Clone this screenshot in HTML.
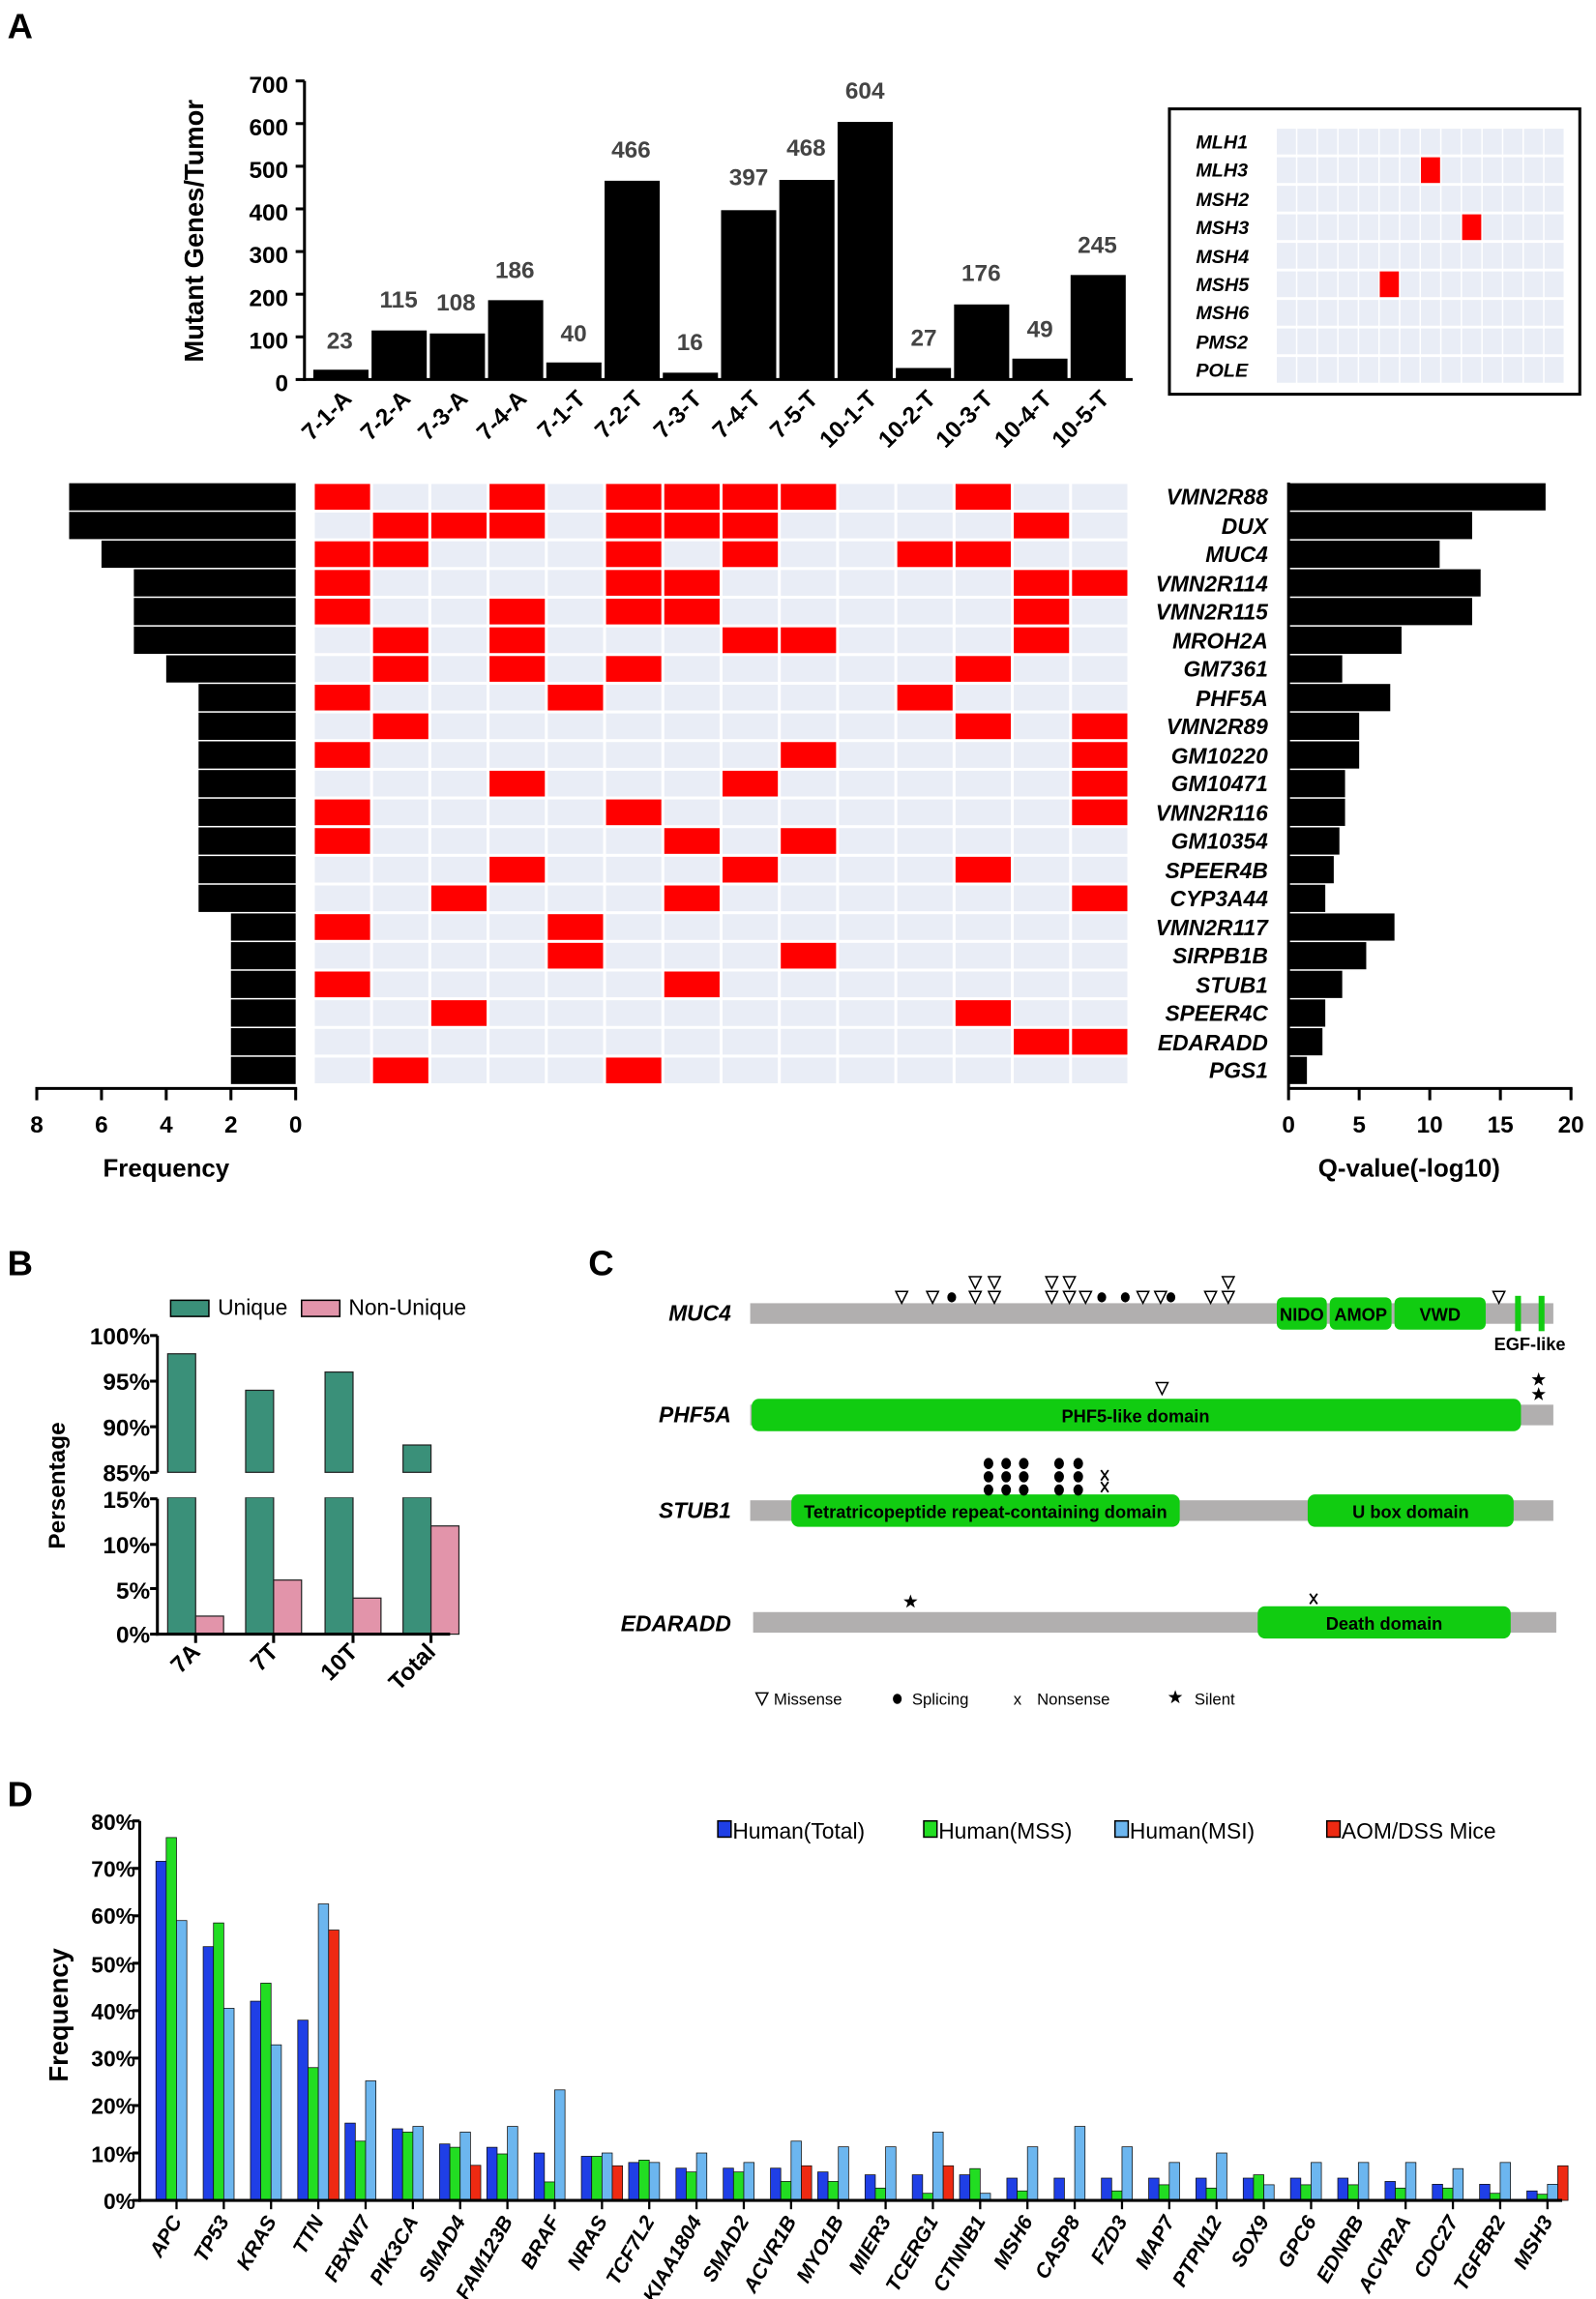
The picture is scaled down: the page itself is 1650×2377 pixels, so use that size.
<!DOCTYPE html>
<html><head><meta charset="utf-8"><style>
html,body{margin:0;padding:0;background:#fff}
svg{display:block}
text{font-family:"Liberation Sans",Arial,sans-serif}
.b{font-weight:bold}
.gi{font-weight:bold;font-style:italic}
</style></head><body>
<svg id="s" width="1650" height="2377" viewBox="0 0 1085 1563" xmlns="http://www.w3.org/2000/svg">
<rect width="1085" height="1563" fill="#fff"/>
<g id="shapes"></g>
<text x="5" y="26" class="b" font-size="24">A</text>
<text x="5" y="867" class="b" font-size="24">B</text>
<text x="400" y="867" class="b" font-size="24">C</text>
<text x="5" y="1228" class="b" font-size="24">D</text>

<text transform="translate(138,157) rotate(-90)" text-anchor="middle" class="b" font-size="18">Mutant  Genes/Tumor</text>
<g class="b" font-size="16" text-anchor="end">
<text x="196" y="63">700</text><text x="196" y="92">600</text><text x="196" y="121">500</text><text x="196" y="150">400</text><text x="196" y="179">300</text><text x="196" y="208">200</text><text x="196" y="237">100</text><text x="196" y="266">0</text>
</g>
<g class="b" font-size="16" fill="#444" text-anchor="middle">
<text x="231" y="237">23</text><text x="271" y="209">115</text><text x="310" y="211">108</text><text x="350" y="189">186</text><text x="390" y="232">40</text><text x="429" y="107">466</text><text x="469" y="238">16</text><text x="509" y="126">397</text><text x="548" y="106">468</text><text x="588" y="67">604</text><text x="628" y="235">27</text><text x="667" y="191">176</text><text x="707" y="229">49</text><text x="746" y="172">245</text>
</g>
<g class="b" font-size="16" text-anchor="end">
<text transform="translate(240,272) rotate(-45)">7-1-A</text>
<text transform="translate(280,272) rotate(-45)">7-2-A</text>
<text transform="translate(319,272) rotate(-45)">7-3-A</text>
<text transform="translate(359,272) rotate(-45)">7-4-A</text>
<text transform="translate(399,272) rotate(-45)">7-1-T</text>
<text transform="translate(438,272) rotate(-45)">7-2-T</text>
<text transform="translate(478,272) rotate(-45)">7-3-T</text>
<text transform="translate(518,272) rotate(-45)">7-4-T</text>
<text transform="translate(557,272) rotate(-45)">7-5-T</text>
<text transform="translate(597,272) rotate(-45)">10-1-T</text>
<text transform="translate(637,272) rotate(-45)">10-2-T</text>
<text transform="translate(676,272) rotate(-45)">10-3-T</text>
<text transform="translate(716,272) rotate(-45)">10-4-T</text>
<text transform="translate(755,272) rotate(-45)">10-5-T</text>
</g>

<g class="gi" font-size="13">
<text x="813" y="101">MLH1</text><text x="813" y="120">MLH3</text><text x="813" y="140">MSH2</text><text x="813" y="159">MSH3</text><text x="813" y="179">MSH4</text><text x="813" y="198">MSH5</text><text x="813" y="217">MSH6</text><text x="813" y="237">PMS2</text><text x="813" y="256">POLE</text>
</g>

<g class="gi" font-size="15" text-anchor="end">
<text x="862" y="343">VMN2R88</text><text x="862" y="363">DUX</text><text x="862" y="382">MUC4</text><text x="862" y="402">VMN2R114</text><text x="862" y="421">VMN2R115</text><text x="862" y="441">MROH2A</text><text x="862" y="460">GM7361</text><text x="862" y="480">PHF5A</text><text x="862" y="499">VMN2R89</text><text x="862" y="519">GM10220</text><text x="862" y="538">GM10471</text><text x="862" y="558">VMN2R116</text><text x="862" y="577">GM10354</text><text x="862" y="597">SPEER4B</text><text x="862" y="616">CYP3A44</text><text x="862" y="636">VMN2R117</text><text x="862" y="655">SIRPB1B</text><text x="862" y="675">STUB1</text><text x="862" y="694">SPEER4C</text><text x="862" y="714">EDARADD</text><text x="862" y="733">PGS1</text>
</g>
<g class="b" font-size="16" text-anchor="middle">
<text x="25" y="770">8</text><text x="69" y="770">6</text><text x="113" y="770">4</text><text x="157" y="770">2</text><text x="201" y="770">0</text>
<text x="876" y="770">0</text><text x="924" y="770">5</text><text x="972" y="770">10</text><text x="1020" y="770">15</text><text x="1068" y="770">20</text>
</g>
<text x="113" y="800" class="b" font-size="17" text-anchor="middle">Frequency</text>
<text x="958" y="800" class="b" font-size="17" text-anchor="middle">Q-value(-log10)</text>

<text x="148" y="894" font-size="15">Unique</text>
<text x="237" y="894" font-size="15">Non-Unique</text>
<text transform="translate(44,1010) rotate(-90)" text-anchor="middle" class="b" font-size="16">Persentage</text>
<g class="b" font-size="16" text-anchor="end">
<text x="102" y="914">100%</text><text x="102" y="945">95%</text><text x="102" y="976">90%</text><text x="102" y="1007">85%</text>
<text x="102" y="1025">15%</text><text x="102" y="1056">10%</text><text x="102" y="1087">5%</text><text x="102" y="1117">0%</text>
</g>
<g class="b" font-size="16" text-anchor="end">
<text transform="translate(137,1124) rotate(-45)">7A</text>
<text transform="translate(190,1124) rotate(-45)">7T</text>
<text transform="translate(244,1124) rotate(-45)">10T</text>
<text transform="translate(297,1124) rotate(-45)">Total</text>
</g>

<g class="gi" font-size="15" text-anchor="end">
<text x="497" y="898">MUC4</text><text x="497" y="967">PHF5A</text><text x="497" y="1032">STUB1</text><text x="497" y="1109">EDARADD</text>
</g>
<g class="b" font-size="12" text-anchor="middle">
<text x="885" y="898">NIDO</text><text x="925" y="898">AMOP</text><text x="979" y="898">VWD</text>
<text x="1040" y="918">EGF-like</text>
<text x="772" y="967">PHF5-like domain</text>
<text x="670" y="1032">Tetratricopeptide repeat-containing domain</text>
<text x="959" y="1032">U box domain</text>
<text x="941" y="1108">Death domain</text>
</g>
<g font-size="11">
<text x="526" y="1159">Missense</text><text x="620" y="1159">Splicing</text><text x="705" y="1159">Nonsense</text><text x="812" y="1159">Silent</text>
<text x="689" y="1159">x</text>
</g>

<g font-size="15">
<text x="498" y="1250">Human(Total)</text><text x="638" y="1250">Human(MSS)</text><text x="768" y="1250">Human(MSI)</text><text x="912" y="1250">AOM/DSS Mice</text>
</g>
<text transform="translate(46,1370) rotate(-90)" text-anchor="middle" class="b" font-size="18">Frequency</text>
<g class="b" font-size="15" text-anchor="end">
<text x="92" y="1244">80%</text><text x="92" y="1276">70%</text><text x="92" y="1308">60%</text><text x="92" y="1341">50%</text><text x="92" y="1373">40%</text><text x="92" y="1405">30%</text><text x="92" y="1437">20%</text><text x="92" y="1470">10%</text><text x="92" y="1502">0%</text>
</g>
<g class="gi" font-size="14" text-anchor="end" id="dlab">
<text>APC</text><text>TP53</text><text>KRAS</text><text>TTN</text><text>FBXW7</text><text>PIK3CA</text><text>SMAD4</text><text>FAM123B</text><text>BRAF</text><text>NRAS</text><text>TCF7L2</text><text>KIAA1804</text><text>SMAD2</text><text>ACVR1B</text><text>MYO1B</text><text>MIER3</text><text>TCERG1</text><text>CTNNB1</text><text>MSH6</text><text>CASP8</text><text>FZD3</text><text>MAP7</text><text>PTPN12</text><text>SOX9</text><text>GPC6</text><text>EDNRB</text><text>ACVR2A</text><text>CDC27</text><text>TGFBR2</text><text>MSH3</text>
</g>
</svg>
<script>
(function(){
var NS="http://www.w3.org/2000/svg",g=document.getElementById("shapes");
function el(t,a){var e=document.createElementNS(NS,t);for(var k in a)e.setAttribute(k,a[k]);g.appendChild(e);return e;}
function R(x,y,w,h,f,extra){var a={x:x,y:y,width:w,height:h,fill:f};if(extra)for(var k in extra)a[k]=extra[k];return el("rect",a);}
function L(x1,y1,x2,y2,w,c){return el("line",{x1:x1,y1:y1,x2:x2,y2:y2,stroke:c||"#000","stroke-width":w||2});}
var vals=[23,115,108,186,40,466,16,397,468,604,27,176,49,245];
for(var i=0;i<14;i++){var h=vals[i]*0.29;R(213+i*39.6,258-h,37.5,h,"#000");}
L(207,55,207,259,2);L(206,258,770,258,2);
for(var t=0;t<=7;t++)L(201,258-t*29,207,258-t*29,2);
R(795,74,279,194,"none",{stroke:"#000","stroke-width":2});
var red={1:7,3:9,5:5};
for(var r=0;r<9;r++)for(var c=0;c<14;c++)R(868+c*14,87.5+r*19.4,13,17.5,(red[r]===c)?"#f00":"#e9edf6");
var hm=[[0,3,5,6,7,8,11],[1,2,3,5,6,7,12],[0,1,5,7,10,11],[0,5,6,12,13],[0,3,5,6,12],[1,3,7,8,12],[1,3,5,11],[0,4,10],[1,11,13],[0,8,13],[3,7,13],[0,5,13],[0,6,8],[3,7,11],[2,6,13],[0,4],[4,8],[0,6],[2,11],[12,13],[1,5]];
var fr=[7,7,6,5,5,5,4,3,3,3,3,3,3,3,3,2,2,2,2,2,2];
var q=[18.2,13,10.7,13.6,13,8,3.8,7.2,5,5,4,4,3.6,3.2,2.6,7.5,5.5,3.8,2.6,2.4,1.3];
for(var r=0;r<21;r++){var y=328+r*19.5;
 for(var c=0;c<14;c++)R(213+c*39.6+1,y+1,37.6,17.5,hm[r].indexOf(c)>=0?"#f00":"#e9edf6");
 R(201-22*fr[r],y+0.5,22*fr[r],18.5,"#000");
 R(876,y+0.5,9.6*q[r],18.5,"#000");}
L(24,740,202,740,2);[25,69,113,157,201].forEach(function(x){L(x,740,x,748,2);});
L(876,740,1069,740,2);L(876,328,876,748,2);[924,972,1020,1068].forEach(function(x){L(x,740,x,748,2);});
R(116,884,26,11,"#3a9079",{stroke:"#000","stroke-width":1});R(205,884,26,11,"#e294aa",{stroke:"#000","stroke-width":1});
var un=[98,94,96,88],nu=[2,6,4,12],cx=[125,178,232,285];
for(var i=0;i<4;i++){var yt=908+(100-un[i])*6.2;var x=cx[i]-11;
 R(x,yt,19,1001-yt,"#3a9079",{stroke:"#222","stroke-width":0.8});
 R(x,1018,19,93,"#3a9079",{stroke:"#222","stroke-width":0.8});
 var yp=1111-nu[i]*6.13;R(x+19,yp,19,1111-yp,"#e294aa",{stroke:"#222","stroke-width":0.8});}
R(110,1002,190,16,"#fff");
L(107,908,107,1001,2);L(107,1019,107,1112,2);L(106,1111,306,1111,2);
[908,939,970,1001].forEach(function(y){L(102,y,107,y,2);});[1019,1050,1080,1111].forEach(function(y){L(102,y,107,y,2);});
cx.forEach(function(x){L(x+8,1111,x+8,1117,2);});
function tri(x,y){el("path",{d:"M"+(x-4)+","+(y-4)+"L"+(x+4)+","+(y-4)+"L"+x+","+(y+4)+"Z",fill:"#fff",stroke:"#000","stroke-width":1});}
function dot(x,y,r){el("ellipse",{cx:x,cy:y,rx:r||3.2,ry:(r||3.2)*1.15,fill:"#000"});}
function star(x,y){var p="";for(var k=0;k<10;k++){var a=-Math.PI/2+k*Math.PI/5,rr=k%2?2:5;p+=(k?"L":"M")+(x+rr*Math.cos(a)).toFixed(2)+","+(y+rr*Math.sin(a)).toFixed(2);}el("path",{d:p+"Z",fill:"#000"});}
function xm(x,y){L(x-2.5,y-3.5,x+2.5,y+3.5,1.2);L(x+2.5,y-3.5,x-2.5,y+3.5,1.2);}
var gray="#b1afaf",grn="#11cc11";
R(510,886,546,14,gray);
R(868,882,34,22,grn,{rx:4});R(904,882,42,22,grn,{rx:4});R(948,882,62,22,grn,{rx:4});
R(1030,881,4,24,grn);R(1046,881,4,24,grn);
[613,634,663,676,715,727,738,777,789,823,835,1019].forEach(function(x){tri(x,882);});
[663,676,715,727,835].forEach(function(x){tri(x,872);});
[647,749,765,796].forEach(function(x){dot(x,882,3);});
R(510,955,546,14,gray);R(511,951,523,22,grn,{rx:5});tri(790,944);star(1046,938);star(1046,948);
R(510,1020,546,14,gray);R(538,1016,264,22,grn,{rx:5});R(889,1016,140,22,grn,{rx:5});
[672,684,696,720,733].forEach(function(x){[995,1004,1013].forEach(function(y){dot(x,y,3.3);});});
xm(751,1003);xm(751,1011);
R(512,1096,546,14,gray);R(855,1092,172,22,grn,{rx:5});star(619,1089);xm(893,1087);
tri(518,1155);dot(610,1155,3);star(799,1154);
var C=["#1f3fe6","#22dd22","#6cb6ef","#ee2a12"];
[[488,C[0]],[628,C[1]],[758,C[2]],[902,C[3]]].forEach(function(a){R(a[0],1238,9,11,a[1],{stroke:"#000","stroke-width":1});});
var D=[[71.5,76.5,59,0],[53.5,58.5,40.5,0],[42,45.8,32.8,0],[38,28,62.5,57],[16.3,12.5,25.2,0],[15.1,14.4,15.6,0],[11.9,11.2,14.4,7.4],[11.2,9.8,15.6,0],[10,3.9,23.3,0],[9.3,9.3,10,7.3],[8,8.5,8,0],[6.8,6,10,0],[6.8,6,8,0],[6.8,4,12.5,7.3],[6,4,11.3,0],[5.4,2.6,11.3,0],[5.4,1.5,14.4,7.3],[5.4,6.7,1.5,0],[4.7,2,11.3,0],[4.7,0,15.6,0],[4.7,2,11.3,0],[4.7,3.3,8,0],[4.7,2.6,10,0],[4.7,5.4,3.3,0],[4.7,3.3,8,0],[4.7,3.3,8,0],[4,2.6,8,0],[3.4,2.6,6.7,0],[3.4,1.5,8,0],[2,1.3,3.4,7.3]];
var n=D.length,sp=(1052-120)/(n-1);
var labs=document.getElementById("dlab").children;
for(var i=0;i<n;i++){var cxx=120+i*sp;
 for(var j=0;j<4;j++){var v=D[i][j];if(!v)continue;var h=v*3.225;R(cxx-14+j*7,1496-h,7,h,C[j],{stroke:"#111","stroke-width":0.5});}
 L(cxx,1496,cxx,1502,1.5);
 labs[i].setAttribute("transform","translate("+(cxx+4)+",1510) rotate(-60)");}
L(95,1238,95,1497,2);L(94,1496,1062,1496,2);
for(var t=0;t<=8;t++)L(90,1496-t*32.25,95,1496-t*32.25,2);
})();
</script>
</body></html>
